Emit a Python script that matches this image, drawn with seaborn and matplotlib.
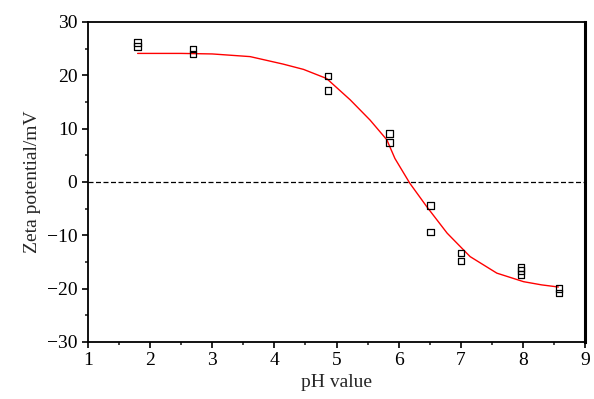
import matplotlib
matplotlib.use("Agg")
import matplotlib.pyplot as plt
import seaborn as sns
import pandas as pd

# measured points
ph_points = [1.80, 1.80, 2.69, 2.69, 4.86, 4.86, 5.85, 5.85, 6.51, 6.51, 7.00, 7.00, 7.97, 7.97, 7.97, 8.58, 8.58]
zeta_points = [26.1, 25.4, 24.9, 24.0, 19.9, 17.1, 9.1, 7.4, -4.4, -9.4, -13.3, -14.8, -16.0, -16.6, -17.4, -20.0, -20.8]

# fitted curve
ph_curve = [1.80, 2.5, 3.0, 3.61, 4.14, 4.47, 4.84, 5.22, 5.54, 5.81, 5.94, 6.18, 6.45, 6.78, 7.15, 7.58, 8.01, 8.30, 8.57]
zeta_curve = [24.1, 24.1, 24.0, 23.5, 22.1, 21.1, 19.4, 15.4, 11.6, 7.9, 4.4, -0.25, -4.6, -9.6, -14.0, -17.1, -18.7, -19.3, -19.7]

sns.set_theme(style="white")
plt.rcParams['font.family'] = ['Liberation Serif', 'DejaVu Serif']

fig = plt.figure(figsize=(5.94, 3.99), dpi=100)
ax = fig.add_axes([0.148, 0.143, 0.837, 0.802])

ax.axhline(0, color="black", linestyle=(0, (4, 2)), linewidth=0.9, zorder=1)

curve = pd.DataFrame({"ph": ph_curve, "zeta": zeta_curve})
sns.lineplot(data=curve, x="ph", y="zeta", color="red", linewidth=1.0, ax=ax, zorder=2)

pts = pd.DataFrame({"ph": ph_points, "zeta": zeta_points})
sns.scatterplot(data=pts, x="ph", y="zeta", marker="s", s=22, facecolor="none",
                edgecolor="black", linewidth=0.9, ax=ax, zorder=3)

ax.set_xlim(1, 9)
ax.set_ylim(-30, 30)
ax.set_xticks(range(1, 10))
ax.set_yticks(range(-30, 31, 10))
ax.set_xticks([x + 0.5 for x in range(1, 9)], minor=True)
ax.set_yticks(range(-25, 30, 10), minor=True)
ax.set_yticklabels(["\u221230", "\u221220", "\u221210", "0", "10", "20", "30"])
ax.tick_params(axis="both", which="major", direction="out", length=4, width=1.2, labelsize=14, colors="black")
ax.tick_params(axis="both", which="minor", direction="out", length=2.5, width=1.2)
ax.tick_params(axis="x", bottom=True, which="both")
ax.tick_params(axis="y", left=True, which="both")

for sp in ax.spines.values():
    sp.set_visible(True)
    sp.set_color("black")
    sp.set_linewidth(1.3)
ax.spines["right"].set_linewidth(2.2)

ax.set_xlabel("pH value", fontsize=14, labelpad=3)
ax.set_ylabel("Zeta potential/mV", fontsize=14, labelpad=4)

fig.savefig("out.png", dpi=100)
